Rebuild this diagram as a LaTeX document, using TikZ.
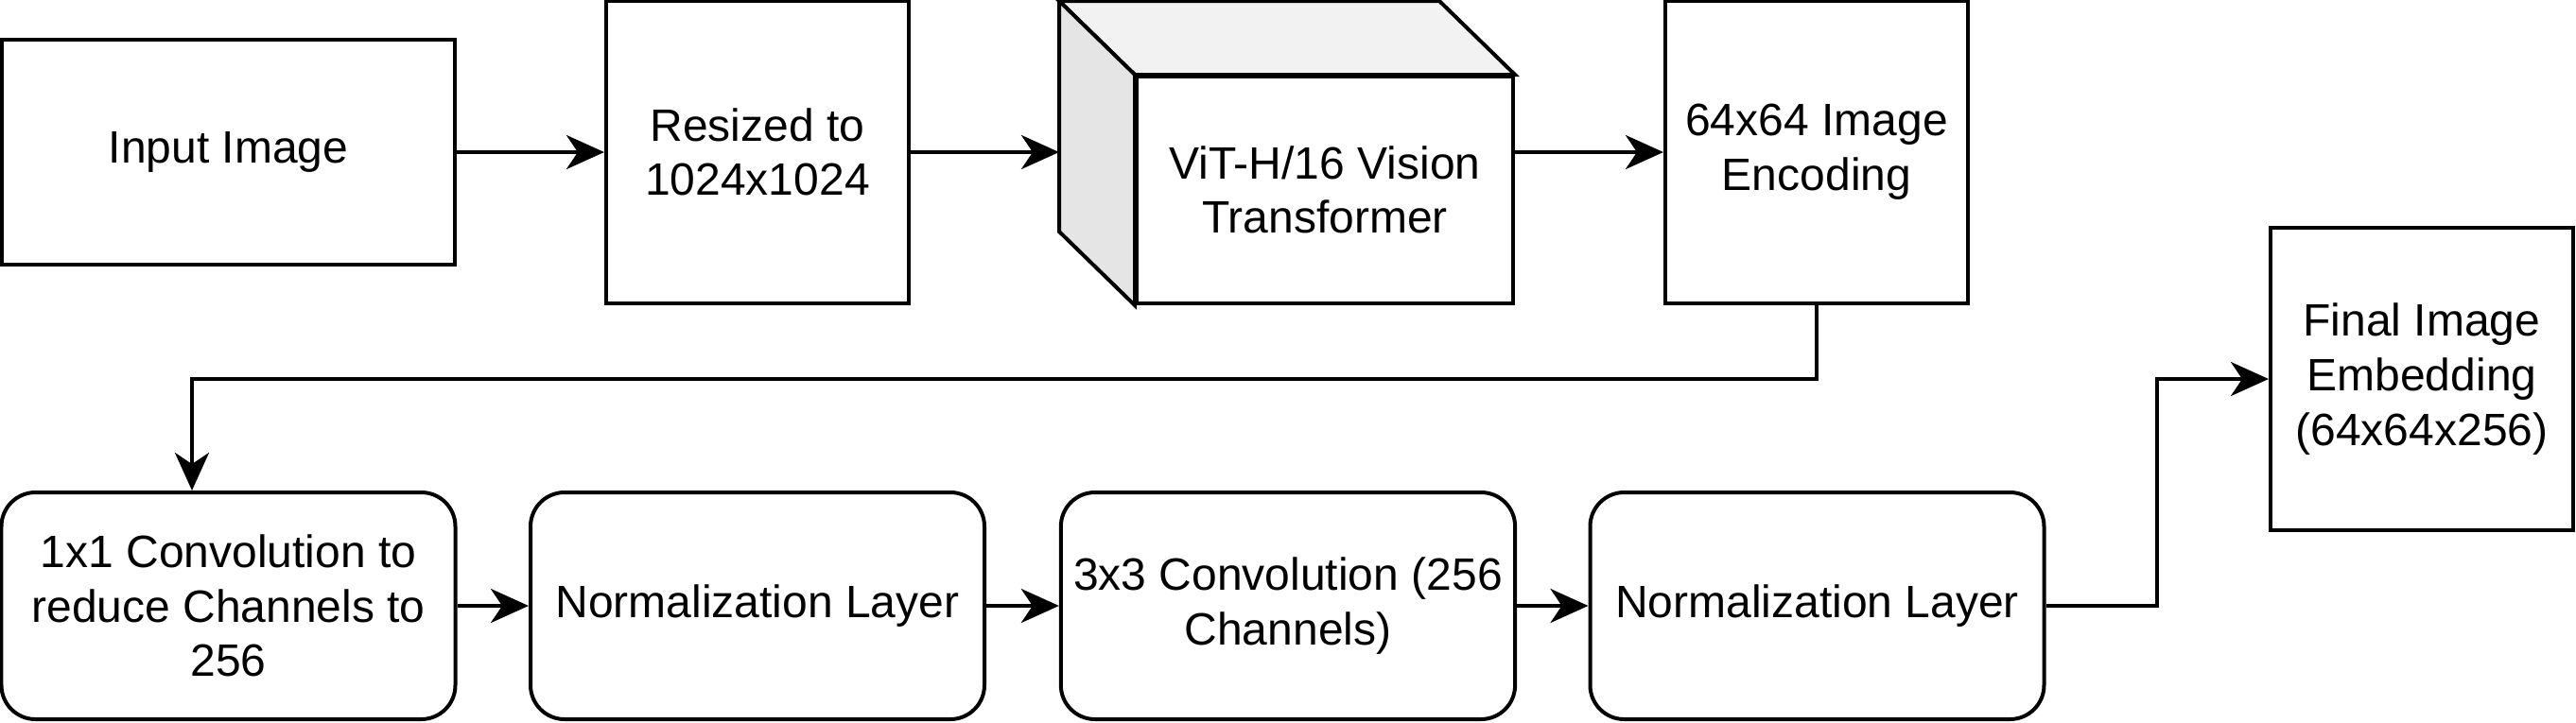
\documentclass[tikz,border=0pt]{standalone}
\usepackage{fontspec}
\setmainfont{Liberation Sans}
\usetikzlibrary{arrows.meta,positioning,calc}
\tikzset{every picture/.style={line width=1pt}}
\tikzset{
  box/.style={draw, fill=white, align=center, font=\fontsize{12pt}{14.4pt}\selectfont},
  sqbox/.style={box, minimum width=80pt, minimum height=80pt},
  rbox/.style={box, rounded corners=9pt, minimum width=120pt, minimum height=60pt},
  arr/.style={-{Stealth[length=10pt,width=9pt,inset=3pt]}}
}

\begin{document}
\begin{tikzpicture}[x=25pt, y=25pt]
    \useasboundingbox (0,0) rectangle (27.24,7.64);
    % 上排
    \node[box, minimum width=119.75pt, minimum height=59.5pt] (input) at (2.415,6.03) {Input Image};
    \node[sqbox] (resize) at (8.01,6.03) {Resized to\\1024x1024};
    \node[box, minimum width=99.5pt, minimum height=60pt] (vit) at (14.01,5.63) {ViT-H/16 Vision\\Transformer};
    \node[sqbox] (enc) at (19.21,6.03) {64x64 Image\\Encoding};
    % 立方体
    \draw[fill=black!5] (vit.north west) -- ++(-20pt,19.5pt) -- ($(vit.north east)+(-20pt,19.5pt)$) -- (vit.north east) -- cycle;
    \draw[fill=black!10] (vit.north west) -- ++(-20pt,19.5pt) -- ($(vit.south west)+(-20pt,19.5pt)$) -- (vit.south west) -- cycle;
    \coordinate (vitin) at ($(vit.west)+(-20pt,0)$);
    % 下排
    \node[rbox] (conv1) at (2.415,1.23) {1x1 Convolution to\\reduce Channels to\\256};
    \node[rbox] (norm1) at (8.01,1.23) {Normalization Layer};
    \node[rbox] (conv3) at (13.62,1.23) {3x3 Convolution (256\\Channels)};
    \node[rbox] (norm2) at (19.215,1.23) {Normalization Layer};
    \node[sqbox] (final) at (25.61,3.63) {Final Image\\Embedding\\(64x64x256)};
    % 连线
    \coordinate (bend) at (2.03,3.63);
    \coordinate (knee) at (22.81,3.63);
    \draw[arr] (input) -- (resize);
    \draw[arr] (resize.east) -- (resize.east -| vitin);
    \draw[arr] (vit.east |- enc.west) -- (enc.west);
    \draw[arr] (enc.south) |- (bend) -- (bend |- conv1.north);
    \draw[arr] (conv1) -- (norm1);
    \draw[arr] (norm1) -- (conv3);
    \draw[arr] (conv3) -- (norm2);
    \draw[arr] (norm2.east) -| (knee) -- (final.west);
\end{tikzpicture}
\end{document}
